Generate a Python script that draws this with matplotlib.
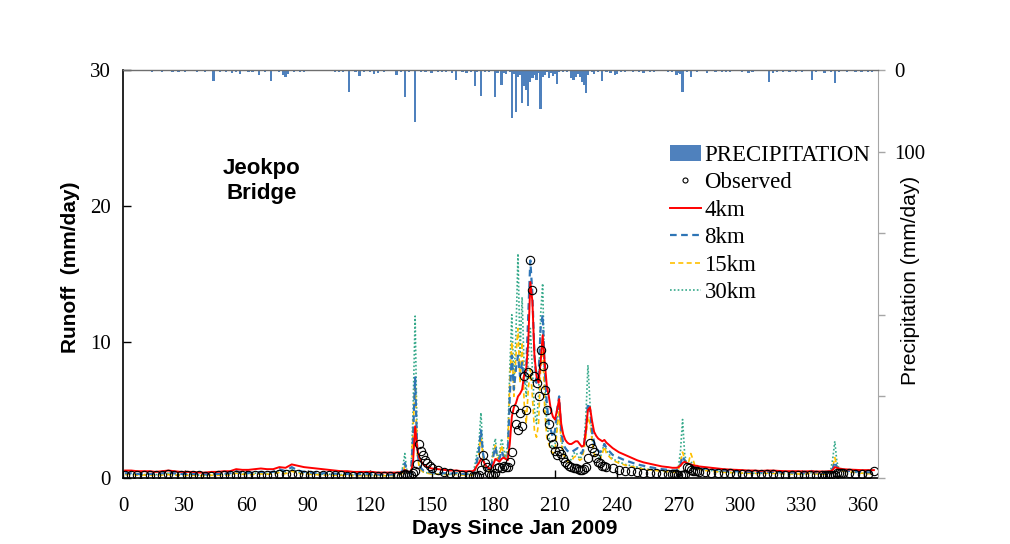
import matplotlib
matplotlib.use('Agg')
import matplotlib.pyplot as plt

plt.rcParams['font.family'] = ['Liberation Serif', 'DejaVu Serif']

# ---- sample days (day of year 2009) ----
days = (list(range(1, 134, 3)) + list(range(135, 151)) + list(range(153, 169, 3)) +
        list(range(170, 236)) + list(range(238, 266, 3)) + list(range(267, 281)) +
        list(range(283, 341, 3)) + list(range(341, 351)) + list(range(353, 366, 3)))

# ---- runoff (mm/day) ----
runoff_4km = (
    [0.55, 0.55, 0.50, 0.50, 0.50, 0.45, 0.50, 0.55, 0.50, 0.45,
     0.45, 0.45, 0.40, 0.40, 0.45, 0.45, 0.50, 0.50, 0.65, 0.60,
     0.60, 0.65, 0.70, 0.65, 0.65, 0.80, 0.75, 1.00, 0.90, 0.80,
     0.75, 0.70, 0.65, 0.60, 0.55, 0.50, 0.50, 0.45, 0.45, 0.45,
     0.45, 0.40, 0.40, 0.40, 0.40]
    + [0.42, 0.45, 0.60, 0.50, 0.45, 0.45, 1.20, 3.80, 2.20, 1.50, 1.20, 1.00, 0.90, 0.80, 0.75, 0.70]
    + [0.65, 0.60, 0.55, 0.55, 0.50, 0.50]
    + [0.50, 0.60, 0.90, 1.10, 1.40, 1.30, 1.00, 0.80, 0.70, 0.70,
       1.00, 1.40, 1.30, 1.20, 1.40, 1.50, 1.40, 1.30, 2.50, 4.50,
       5.20, 5.50, 6.00, 6.20, 6.50, 7.60, 8.00, 10.00, 14.40, 13.00,
       9.00, 7.50, 7.00, 8.50, 10.50, 8.50, 6.80, 6.00, 5.00, 4.50,
       4.30, 5.00, 5.80, 4.00, 3.20, 2.80, 2.60, 2.50, 2.50, 2.60,
       2.70, 2.70, 2.50, 2.30, 2.40, 3.50, 5.00, 5.20, 4.20, 3.40,
       3.10, 2.90, 2.80, 2.70, 2.80, 2.60]
    + [2.20, 1.90, 1.70, 1.50, 1.30, 1.15, 1.05, 0.95, 0.85, 0.80]
    + [0.75, 0.75, 0.75, 0.80, 0.90, 1.10, 1.20, 1.10, 1.05, 1.00, 0.95, 0.90, 0.90, 0.85]
    + [0.80, 0.75, 0.70, 0.65, 0.62, 0.60, 0.58, 0.55, 0.55, 0.52,
       0.55, 0.55, 0.52, 0.50, 0.50, 0.50, 0.48, 0.50, 0.48, 0.48]
    + [0.48, 0.48, 0.50, 0.50, 0.60, 0.80, 0.75, 0.70, 0.68, 0.65]
    + [0.62, 0.60, 0.58, 0.58, 0.58])

runoff_8km = (
    [0.35, 0.35, 0.30, 0.30, 0.30, 0.30, 0.35, 0.40, 0.35, 0.30,
     0.30, 0.30, 0.28, 0.28, 0.30, 0.30, 0.32, 0.35, 0.50, 0.40,
     0.38, 0.40, 0.45, 0.42, 0.45, 0.65, 0.50, 0.80, 0.55, 0.45,
     0.40, 0.38, 0.35, 0.35, 0.32, 0.30, 0.30, 0.28, 0.28, 0.28,
     0.28, 0.26, 0.26, 0.25, 0.28]
    + [0.35, 0.60, 1.10, 0.50, 0.35, 0.35, 3.00, 7.40, 2.00, 1.00, 0.70, 0.55, 0.50, 0.45, 0.42, 0.40]
    + [0.38, 0.35, 0.32, 0.35, 0.30, 0.30]
    + [0.30, 0.60, 1.20, 2.00, 3.50, 1.80, 1.00, 0.70, 0.60, 0.80,
       1.60, 2.30, 1.50, 1.40, 2.00, 1.60, 1.30, 1.50, 6.00, 9.00,
       6.50, 8.00, 9.00, 7.50, 8.50, 7.00, 8.00, 12.00, 16.00, 13.50,
       9.00, 7.00, 7.50, 11.00, 12.00, 8.00, 5.50, 4.00, 3.50, 3.00,
       3.50, 5.00, 6.00, 3.50, 2.50, 2.20, 2.00, 1.90, 1.90, 2.00,
       2.10, 2.20, 1.90, 1.80, 2.20, 3.50, 5.50, 5.00, 3.50, 2.60,
       2.20, 2.00, 1.90, 2.10, 2.50, 2.20]
    + [1.70, 1.50, 1.30, 1.15, 1.00, 0.90, 0.80, 0.72, 0.65, 0.60]
    + [0.55, 0.55, 0.55, 0.70, 1.00, 1.60, 1.30, 1.00, 0.95, 0.95, 0.90, 0.85, 0.80, 0.75]
    + [0.70, 0.65, 0.60, 0.55, 0.52, 0.50, 0.48, 0.45, 0.45, 0.42,
       0.45, 0.45, 0.42, 0.40, 0.40, 0.40, 0.38, 0.55, 0.40, 0.38]
    + [0.38, 0.38, 0.40, 0.45, 0.70, 1.20, 0.80, 0.65, 0.60, 0.58]
    + [0.52, 0.48, 0.45, 0.42, 0.40])

runoff_15km = (
    [0.25, 0.25, 0.22, 0.22, 0.22, 0.20, 0.22, 0.25, 0.22, 0.20,
     0.20, 0.20, 0.18, 0.18, 0.20, 0.20, 0.22, 0.22, 0.35, 0.28,
     0.25, 0.28, 0.30, 0.28, 0.30, 0.40, 0.32, 0.50, 0.35, 0.30,
     0.28, 0.25, 0.22, 0.22, 0.20, 0.20, 0.20, 0.18, 0.18, 0.18,
     0.18, 0.18, 0.17, 0.17, 0.20]
    + [0.25, 0.40, 0.90, 0.40, 0.25, 0.25, 3.50, 7.20, 1.80, 0.80, 0.55, 0.45, 0.40, 0.35, 0.32, 0.30]
    + [0.28, 0.26, 0.24, 0.26, 0.22, 0.22]
    + [0.22, 0.50, 1.00, 1.80, 3.20, 1.50, 0.80, 0.55, 0.45, 0.70,
       1.80, 2.40, 1.40, 1.60, 2.40, 1.80, 1.40, 1.80, 7.00, 10.00,
       6.00, 9.00, 11.00, 7.00, 10.00, 5.50, 4.00, 6.50, 8.00, 6.00,
       3.50, 3.00, 4.00, 8.00, 10.00, 5.00, 3.00, 2.50, 2.00, 1.80,
       2.00, 3.50, 5.00, 2.50, 1.80, 1.40, 1.20, 1.10, 1.20, 1.50,
       1.60, 1.50, 1.30, 1.40, 2.00, 3.00, 4.50, 4.00, 2.80, 1.80,
       1.50, 1.40, 1.40, 1.80, 2.30, 1.80]
    + [1.30, 1.10, 0.95, 0.85, 0.75, 0.65, 0.60, 0.55, 0.50, 0.45]
    + [0.42, 0.42, 0.45, 0.60, 1.20, 1.90, 1.40, 1.00, 1.20, 1.80, 1.40, 0.90, 0.75, 0.65]
    + [0.55, 0.50, 0.45, 0.42, 0.40, 0.38, 0.36, 0.34, 0.34, 0.32,
       0.35, 0.34, 0.32, 0.30, 0.30, 0.30, 0.28, 0.35, 0.30, 0.28]
    + [0.28, 0.28, 0.30, 0.40, 0.80, 1.50, 0.90, 0.60, 0.55, 0.50]
    + [0.45, 0.40, 0.36, 0.32, 0.30])

runoff_30km = (
    [0.30, 0.30, 0.25, 0.25, 0.25, 0.25, 0.30, 0.35, 0.28, 0.25,
     0.25, 0.25, 0.22, 0.22, 0.25, 0.28, 0.30, 0.30, 0.45, 0.35,
     0.32, 0.35, 0.40, 0.35, 0.38, 0.55, 0.40, 0.65, 0.45, 0.38,
     0.35, 0.30, 0.28, 0.28, 0.30, 0.26, 0.26, 0.24, 0.24, 0.24,
     0.24, 0.22, 0.22, 0.22, 0.30]
    + [0.35, 0.80, 1.80, 0.50, 0.30, 0.30, 5.00, 11.90, 2.50, 1.00, 0.60, 0.45, 0.40, 0.38, 0.35, 0.32]
    + [0.30, 0.28, 0.26, 0.40, 0.26, 0.28]
    + [0.30, 0.90, 1.80, 2.50, 4.80, 1.80, 0.90, 0.60, 0.50, 1.00,
       2.20, 2.90, 1.40, 1.80, 2.90, 2.20, 1.50, 2.50, 8.00, 12.00,
       7.00, 10.50, 16.50, 9.00, 13.30, 8.00, 6.00, 9.00, 11.00, 8.00,
       5.00, 4.00, 6.00, 12.00, 14.30, 7.00, 4.00, 3.00, 2.50, 2.20,
       2.50, 4.00, 5.50, 3.00, 2.00, 1.60, 1.30, 1.20, 1.40, 1.80,
       1.90, 1.70, 1.40, 1.60, 2.50, 4.50, 8.30, 5.50, 3.00, 1.90,
       1.60, 1.50, 1.50, 2.00, 2.60, 2.00]
    + [1.40, 1.20, 1.00, 0.90, 0.80, 0.70, 0.62, 0.58, 0.52, 0.48]
    + [0.45, 0.45, 0.50, 0.80, 2.00, 4.30, 1.80, 1.00, 0.90, 1.20, 1.00, 0.80, 0.70, 0.65]
    + [0.60, 0.55, 0.50, 0.45, 0.42, 0.40, 0.38, 0.36, 0.36, 0.34,
       0.38, 0.36, 0.34, 0.32, 0.32, 0.32, 0.30, 0.40, 0.32, 0.30]
    + [0.30, 0.30, 0.35, 0.60, 1.40, 2.70, 1.20, 0.70, 0.60, 0.55]
    + [0.48, 0.42, 0.38, 0.34, 0.32])

observed = (
    [0.25, 0.25, 0.22, 0.22, 0.22, 0.20, 0.22, 0.28, 0.25, 0.22,
     0.20, 0.20, 0.20, 0.18, 0.18, 0.20, 0.20, 0.22, 0.25, 0.22,
     0.22, 0.22, 0.25, 0.25, 0.25, 0.28, 0.28, 0.30, 0.28, 0.25,
     0.25, 0.22, 0.22, 0.20, 0.20, 0.20, 0.18, 0.18, 0.18, 0.18,
     0.17, 0.17, 0.17, 0.17, 0.18]
    + [0.18, 0.20, 0.30, 0.25, 0.20, 0.20, 0.40, 0.50, 1.00, 2.50, 2.00, 1.70, 1.30, 1.10, 0.90, 0.75]
    + [0.60, 0.45, 0.35, 0.30, 0.25, 0.20]
    + [0.15, 0.12, 0.12, 0.20, 0.60, 1.70, 1.10, 0.80, 0.40, 0.20,
       0.20, 0.40, 0.70, 0.80, 0.70, 0.90, 0.80, 0.80, 1.20, 1.90,
       5.10, 4.00, 3.50, 4.80, 3.80, 7.50, 5.00, 7.80, 16.00, 13.80,
       7.50, 7.00, 6.00, 9.40, 8.20, 6.50, 5.00, 4.00, 3.00, 2.50,
       2.00, 1.70, 2.00, 1.80, 1.50, 1.20, 1.00, 0.90, 0.80, 0.75,
       0.70, 0.65, 0.60, 0.60, 0.65, 0.80, 1.50, 2.60, 2.20, 1.90,
       1.50, 1.20, 1.10, 0.90, 0.85, 0.80]
    + [0.70, 0.60, 0.55, 0.50, 0.45, 0.40, 0.38, 0.35, 0.32, 0.30]
    + [0.28, 0.28, 0.28, 0.25, 0.22, 0.20, 0.30, 0.80, 0.70, 0.60, 0.55, 0.50, 0.48, 0.45]
    + [0.42, 0.40, 0.38, 0.36, 0.34, 0.32, 0.30, 0.28, 0.28, 0.26,
       0.28, 0.26, 0.25, 0.24, 0.24, 0.24, 0.22, 0.25, 0.22, 0.22]
    + [0.22, 0.22, 0.22, 0.20, 0.18, 0.20, 0.35, 0.40, 0.38, 0.36]
    + [0.34, 0.32, 0.30, 0.30, 0.50])

# ---- precipitation (day, mm/day) ----
precip_days = [14, 17, 19, 22, 24, 27, 30, 33, 36, 40, 44, 47, 50, 53, 55, 57, 61, 63, 66, 69,
               72, 76, 78, 79, 80, 83, 86, 88, 103, 105, 107, 110, 113, 115, 117, 120, 122, 124,
               127, 130, 133, 135, 137, 139, 142, 145, 147, 150, 153, 155, 157, 160, 162, 165,
               167, 169, 171, 172, 174, 176, 178, 181, 182, 184, 185, 186, 188, 189, 190, 191,
               192, 193, 194, 195, 196, 197, 198, 199, 200, 201, 202, 203, 204, 205, 206, 207,
               208, 209, 210, 211, 212, 214, 216, 218, 219, 220, 221, 222, 223, 224, 225, 226,
               228, 229, 231, 233, 235, 237, 239, 240, 242, 244, 248, 251, 253, 256, 258, 265,
               267, 269, 270, 271, 272, 274, 276, 279, 284, 288, 291, 293, 295, 301, 304, 306,
               314, 316, 318, 321, 324, 327, 330, 335, 337, 341, 344, 346, 348, 352, 356, 359,
               362, 364]
precip_mm = [2, 1, 2, 1, 3, 2, 2, 1, 3, 2, 13, 2, 3, 4, 2, 5, 2, 3, 6, 2,
             13, 2, 6, 8, 5, 3, 2, 3, 2, 3, 2, 27, 3, 7, 3, 2, 5, 4,
             2, 1, 6, 2, 33, 3, 64, 3, 2, 4, 2, 3, 2, 4, 12, 2,
             4, 3, 19, 3, 32, 2, 3, 33, 4, 18, 4, 5, 3, 59, 5, 52,
             8, 6, 41, 20, 25, 44, 15, 10, 6, 12, 4, 48, 8, 6, 3, 10,
             4, 7, 5, 17, 3, 2, 3, 10, 12, 8, 5, 8, 15, 18, 28, 6,
             3, 5, 3, 13, 3, 4, 6, 5, 3, 2, 2, 3, 4, 3, 2, 2,
             3, 6, 4, 5, 27, 3, 9, 3, 4, 2, 3, 3, 2, 3, 4, 2,
             15, 4, 3, 2, 3, 2, 2, 12, 2, 4, 3, 16, 3, 2, 2, 2,
             2, 2]

x_ticks = list(range(0, 361, 30))
runoff_ticks = [0, 10, 20, 30]
precip_ticks = [0, 100, 200, 300, 400, 500]
precip_ticklabels = ['0', '100', '', '', '', '']

W, H = 1010, 544
fig = plt.figure(figsize=(W / 100, H / 100), dpi=100)
ax = fig.add_axes([123 / W, (H - 478) / H, 755 / W, 408 / H])

ax.plot(days, runoff_30km, color='#35A98A', lw=1.2, ls=(0, (1, 1.3)), label='30km', zorder=2)
ax.plot(days, runoff_15km, color='#FFC000', lw=1.2, ls=(0, (3, 2)), label='15km', zorder=3)
ax.plot(days, runoff_8km, color='#2E75B6', lw=1.6, ls=(0, (3, 2)), label='8km', zorder=4)
ax.plot(days, runoff_4km, color='#FF0000', lw=1.4, label='4km', zorder=5)
ax.plot(days, observed, ls='none', marker='o', ms=6, mfc='none', mec='black', mew=0.8,
        label='Observed', zorder=6)

ax.set_xlim(0, 367)
ax.set_ylim(0, 30)
ax.set_xticks(x_ticks)
ax.set_yticks(runoff_ticks)
ax.tick_params(axis='both', direction='in', length=6, width=1, labelsize=15, color='black')
ax.tick_params(axis='x', pad=14)
ax.tick_params(axis='y', pad=9)
for s in ['left', 'bottom']:
    ax.spines[s].set_color('black')
    ax.spines[s].set_linewidth(1.2)
ax.spines['right'].set_visible(False)
ax.spines['top'].set_visible(False)

ax2 = ax.twinx()
bars = ax2.bar(precip_days, precip_mm, width=1.1, color='#4F81BD', label='PRECIPITATION')
ax2.set_ylim(500, 0)
ax2.set_yticks(precip_ticks)
ax2.set_yticklabels(precip_ticklabels)
ax2.tick_params(axis='y', direction='out', length=5, width=1, color='#A6A6A6', labelsize=15, pad=7)
ax2.spines['left'].set_visible(False)
ax2.spines['bottom'].set_visible(False)
ax2.spines['right'].set_color('#A6A6A6')
ax2.spines['top'].set_color('#6E6E6E')
ax2.spines['top'].set_linewidth(1.0)

handles = [bars] + [ax.get_lines()[i] for i in (4, 3, 2, 1, 0)]
labels = ['PRECIPITATION', 'Observed', '4km', '8km', '15km', '30km']
ax2.legend(handles, labels, loc='upper left', bbox_to_anchor=(670 / W, 1 - 145 / H),
           bbox_transform=fig.transFigure, frameon=False,
           prop={'family': 'Liberation Serif', 'size': 16.5}, handlelength=1.35,
           handletextpad=0.15, labelspacing=0.28, borderpad=0, borderaxespad=0,
           markerscale=0.6)

sans = 'Liberation Sans'
fig.text(262 / W, 1 - 181 / H, 'Jeokpo\nBridge', ha='center', va='center', fontsize=16,
         fontweight='bold', family=sans, linespacing=1.2)
fig.text(71 / W, 1 - 267 / H, 'Runoff  (mm/day)', rotation=90, ha='center', va='center',
         fontsize=15, fontweight='bold', family=sans)
fig.text(515 / W, 1 - 528 / H, 'Days Since Jan 2009', ha='center', va='center',
         fontsize=15, fontweight='bold', family=sans)
fig.text(910 / W, 1 - 280 / H, 'Precipitation (mm/day)', rotation=90, ha='center',
         va='center', fontsize=15, family=sans)

fig.savefig('out.png', dpi=100)
